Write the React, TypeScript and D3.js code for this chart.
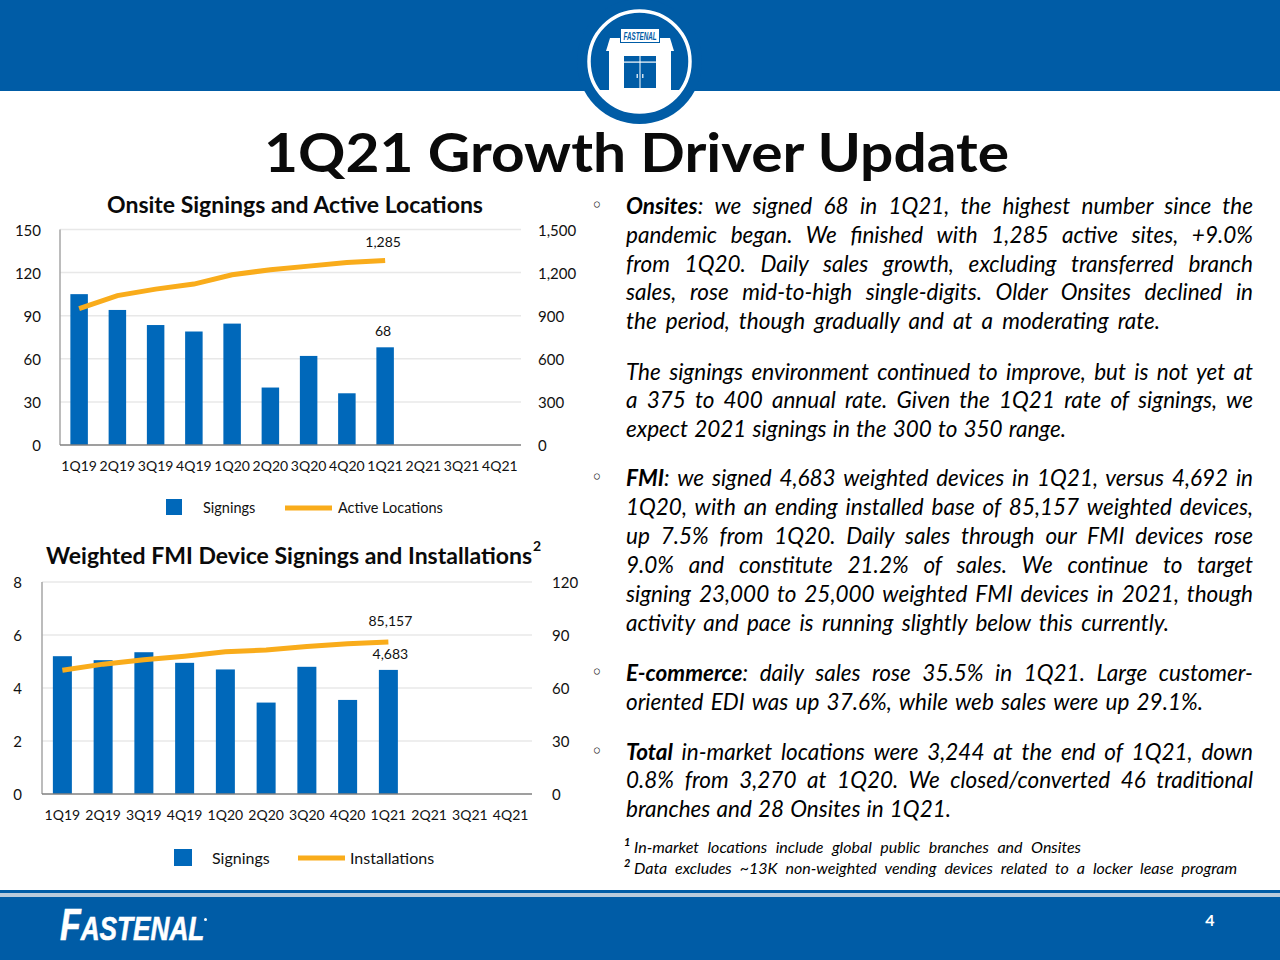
import React, { useLayoutEffect, useRef } from "react";
import * as d3 from "d3";

const quarters = ["1Q19","2Q19","3Q19","4Q19","1Q20","2Q20","3Q20","4Q20","1Q21","2Q21","3Q21","4Q21"];
const onsiteSignings = [105, 94, 83.5, 79, 84.5, 40, 62, 36, 68];
const onsiteActive = [950, 1040, 1085, 1120, 1185, 1220, 1245, 1270, 1285];
const fmiSignings = [5.2, 5.05, 5.35, 4.95, 4.7, 3.45, 4.8, 3.55, 4.683];
const fmiInstalled = [70, 73.5, 76, 78, 80.5, 81.5, 83.5, 85, 86];
const onsiteLeftTicks = [0, 30, 60, 90, 120, 150];
const onsiteRightTicks = [0, 300, 600, 900, 1200, 1500];
const fmiLeftTicks = [0, 2, 4, 6, 8];
const fmiRightTicks = [0, 30, 60, 90, 120];

const bodyLines: [string, string, number, number][] = [
  ["Onsites", ": we signed 68 in 1Q21, the highest number since the", 214, 1253],
  ["", "pandemic began. We finished with 1,285 active sites, +9.0%", 243, 1253],
  ["", "from 1Q20. Daily sales growth, excluding transferred branch", 272, 1253],
  ["", "sales, rose mid-to-high single-digits. Older Onsites declined in", 300, 1253],
  ["", "the period, though gradually and at a moderating rate.", 329, 1160],
  ["", "The signings environment continued to improve, but is not yet at", 380, 1253],
  ["", "a 375 to 400 annual rate. Given the 1Q21 rate of signings, we", 408, 1253],
  ["", "expect 2021 signings in the 300 to 350 range.", 437, 1066],
  ["FMI", ": we signed 4,683 weighted devices in 1Q21, versus 4,692 in", 486, 1253],
  ["", "1Q20, with an ending installed base of 85,157 weighted devices,", 515, 1253],
  ["", "up 7.5% from 1Q20. Daily sales through our FMI devices rose", 544, 1253],
  ["", "9.0% and constitute 21.2% of sales. We continue to target", 573, 1253],
  ["", "signing 23,000 to 25,000 weighted FMI devices in 2021, though", 602, 1253],
  ["", "activity and pace is running slightly below this currently.", 631, 1169],
  ["E-commerce", ": daily sales rose 35.5% in 1Q21. Large customer-", 681, 1253],
  ["", "oriented EDI was up 37.6%, while web sales were up 29.1%.", 710, 1203],
  ["Total", " in-market locations were 3,244 at the end of 1Q21, down", 760, 1253],
  ["", "0.8% from 3,270 at 1Q20. We closed/converted 46 traditional", 788, 1253],
  ["", "branches and 28 Onsites in 1Q21.", 817, 951],
];
const bulletYs = [214, 486, 681, 760];
const footnotes: [string, string, number, number][] = [
  ["1", "In-market locations include global public branches and Onsites", 853, 1081],
  ["2", "Data excludes ~13K non-weighted vending devices related to a locker lease program", 874, 1237],
];

const FONT = "Lato, Carlito, sans-serif";
const BLUE = "#005CA6";
const BAR = "#0068BA";
const GOLD = "#F9AC1B";
const INK = "#111";

type ChartProps = {
  left: number; right: number; top: number; bottom: number; leftMax: number; rightMax: number;
  leftTicks: number[]; rightTicks: number[]; bars: number[]; line: number[]; barW: number; lineW: number;
  lineLabel: string; barLabel: string; lineLabelDy: number; barLabelDy: number; labelDx: number;
  leftLabelX: number; rightLabelX: number; catY: number; catSize: number; gridRight: number;
};

function Chart(p: ChartProps) {
  const x = d3.scaleBand().domain(quarters).range([p.left, p.right]);
  const yL = d3.scaleLinear().domain([0, p.leftMax]).range([p.bottom, p.top]);
  const yR = d3.scaleLinear().domain([0, p.rightMax]).range([p.bottom, p.top]);
  const cx = (q: string) => (x(q) as number) + x.bandwidth() / 2;
  const path = d3.line<number>().x((_, i) => cx(quarters[i])).y(d => yR(d))(p.line) as string;
  const lastI = p.bars.length - 1;
  const lastX = cx(quarters[lastI]) + p.labelDx;
  return (
    <g fontFamily={FONT} fill={INK}>
      {p.leftTicks.slice(1).map(t => <line key={t} x1={p.left} x2={p.gridRight} y1={yL(t)} y2={yL(t)} stroke="#E8E8E8" strokeWidth={1.5} />)}
      <line x1={p.left} x2={p.left} y1={p.top} y2={p.bottom} stroke="#A6A6A6" strokeWidth={1.5} />
      {p.bars.map((v, i) => (
        <rect key={i} x={cx(quarters[i]) - p.barW / 2} width={p.barW} y={yL(v)} height={p.bottom - yL(v)} fill={BAR} />
      ))}
      <line x1={p.left} x2={p.gridRight} y1={p.bottom} y2={p.bottom} stroke="#7F7F7F" strokeWidth={1.5} />
      <path d={path} fill="none" stroke={GOLD} strokeWidth={p.lineW} />
      {p.leftTicks.map(t => <text key={t} x={p.leftLabelX} y={yL(t) + 6} textAnchor="end" fontSize={15}>{d3.format(",")(t)}</text>)}
      {p.rightTicks.map(t => <text key={t} x={p.rightLabelX} y={yR(t) + 6} fontSize={15}>{d3.format(",")(t)}</text>)}
      {quarters.map(q => <text key={q} x={cx(q)} y={p.catY} textAnchor="middle" fontSize={p.catSize}>{q}</text>)}
      <text x={lastX} y={yR(p.line[lastI]) + p.lineLabelDy} textAnchor="middle" fontSize={14}>{p.lineLabel}</text>
      <text x={lastX} y={yL(p.bars[lastI]) + p.barLabelDy} textAnchor="middle" fontSize={14}>{p.barLabel}</text>
    </g>
  );
}

export default function App() {
  const ref = useRef<SVGSVGElement>(null);
  useLayoutEffect(() => {
    const svg = ref.current!;
    svg.querySelectorAll<SVGTextElement>("text[data-end]").forEach(t => {
      const start = +t.getAttribute("x")!;
      const end = +t.getAttribute("data-end")!;
      t.style.wordSpacing = "0px";
      const len = t.getComputedTextLength();
      const gaps = (t.textContent!.match(/ /g) || []).length;
      if (gaps) t.style.wordSpacing = `${(end - start - len) / gaps}px`;
    });
  }, []);
  return (
    <svg ref={ref} width={1280} height={960} viewBox="0 0 1280 960" style={{ position: "absolute", left: 0, top: 0, background: "#fff" }}>
      <defs>
        <clipPath id="disc"><circle cx={639.5} cy={61.5} r={50} /></clipPath>
      </defs>
      <rect x={0} y={0} width={1280} height={91} fill={BLUE} />
      <circle cx={639.5} cy={61.5} r={62.5} fill={BLUE} />
      <circle cx={639.5} cy={61.5} r={50.5} fill={BLUE} stroke="#fff" strokeWidth={3.5} />
      <g fill="#fff" clipPath="url(#disc)">
        <rect x={585} y={90} width={110} height={30} />
        <rect x={609} y={48} width={62} height={44} />
        <path d="M610 38 H670 L674 51 H606 Z" />
      </g>
      <rect x={620} y={28} width={40} height={15} fill={BLUE} />
      <rect x={621} y={29} width={38} height={13} fill="#fff" />
      <text x={640} y={39.5} textAnchor="middle" fontFamily="Liberation Sans" fontSize={10.5} fontWeight={700} fontStyle="italic" fill={BLUE} textLength={33} lengthAdjust="spacingAndGlyphs">FASTENAL</text>
      <rect x={624} y={56} width={32} height={32} fill={BLUE} />
      <rect x={624} y={61.5} width={32} height={1.2} fill="#fff" />
      <rect x={639.5} y={56} width={1} height={32} fill="#fff" />
      <rect x={636.5} y={74} width={1.5} height={4} fill="#cfe0ee" />
      <rect x={642} y={74} width={1.5} height={4} fill="#cfe0ee" />

      <text x={264} y={172} fontFamily={FONT} fontSize={54} fontWeight={700} fill="#0a0a0a" textLength={745} lengthAdjust="spacingAndGlyphs">1Q21 Growth Driver Update</text>

      <text x={107} y={213} fontFamily={FONT} fontSize={22} fontWeight={700} fill="#0a0a0a" textLength={376} lengthAdjust="spacingAndGlyphs">Onsite Signings and Active Locations</text>
      <Chart left={60} right={519} gridRight={521} top={229.5} bottom={445} leftMax={150} rightMax={1500}
        leftTicks={onsiteLeftTicks} rightTicks={onsiteRightTicks} bars={onsiteSignings} line={onsiteActive}
        barW={17.5} lineW={5} lineLabel="1,285" barLabel="68" lineLabelDy={-13} barLabelDy={-11} labelDx={-2}
        leftLabelX={41} rightLabelX={538} catY={471} catSize={14} />
      <rect x={166} y={499} width={16} height={16} fill={BAR} />
      <text x={203} y={513} fontFamily={FONT} fontSize={14.5} fill={INK}>Signings</text>
      <line x1={285} x2={332} y1={508} y2={508} stroke={GOLD} strokeWidth={5} />
      <text x={338} y={513} fontFamily={FONT} fontSize={14.5} fill={INK}>Active Locations</text>

      <text x={46} y={564} fontFamily={FONT} fontSize={22} fontWeight={700} fill="#0a0a0a" textLength={486} lengthAdjust="spacingAndGlyphs">Weighted FMI Device Signings and Installations</text>
      <text x={533} y={551} fontFamily={FONT} fontSize={14} fontWeight={700} fill="#0a0a0a">2</text>
      <Chart left={42} right={531} gridRight={532} top={582} bottom={794} leftMax={8} rightMax={120}
        leftTicks={fmiLeftTicks} rightTicks={fmiRightTicks} bars={fmiSignings} line={fmiInstalled}
        barW={19} lineW={5} lineLabel="85,157" barLabel="4,683" lineLabelDy={-16} barLabelDy={-11} labelDx={2}
        leftLabelX={22} rightLabelX={552} catY={820} catSize={14} />
      <rect x={174} y={849} width={18} height={17} fill={BAR} />
      <text x={212} y={864} fontFamily={FONT} fontSize={16} fill={INK}>Signings</text>
      <line x1={298} x2={345} y1={858} y2={858} stroke={GOLD} strokeWidth={5} />
      <text x={350} y={864} fontFamily={FONT} fontSize={16} fill={INK}>Installations</text>

      <g fontFamily={FONT} fontSize={22.5} fontStyle="italic" fill="#000">
        {bodyLines.map(([b, t, y, end]) => (
          <text key={y} x={626} y={y} data-end={end}>
            {b ? <tspan fontWeight={700}>{b}</tspan> : null}{t}
          </text>
        ))}
      </g>
      {bulletYs.map(y => <text key={y} x={597} y={y - 2} textAnchor="middle" fontFamily="DejaVu Sans" fontSize={20} fill={INK}>◦</text>)}
      <g fontFamily={FONT} fontStyle="italic" fill="#000">
        {footnotes.map(([n, t, y, end]) => (
          <g key={n}>
            <text x={624} y={y - 7} fontSize={11} fontWeight={700}>{n}</text>
            <text x={634} y={y} fontSize={16} data-end={end}>{t}</text>
          </g>
        ))}
      </g>

      <rect x={0} y={890} width={1280} height={70} fill={BLUE} />
      <rect x={0} y={893} width={1280} height={4} fill="#B9CADB" />
      <text transform="translate(60,940) scale(0.77,1)" fontFamily="Liberation Sans" fontStyle="italic" fontWeight={700} fill="#fff" stroke="#fff" strokeWidth={0.6}>
        <tspan fontSize={44}>F</tspan><tspan fontSize={34}>ASTENAL</tspan>
      </text>
      <circle cx={205.5} cy={919.5} r={1.5} fill="#fff" />
      <text x={1210} y={926} textAnchor="middle" fontFamily={FONT} fontSize={16} fontWeight={700} fill="#fff">4</text>
    </svg>
  );
}
